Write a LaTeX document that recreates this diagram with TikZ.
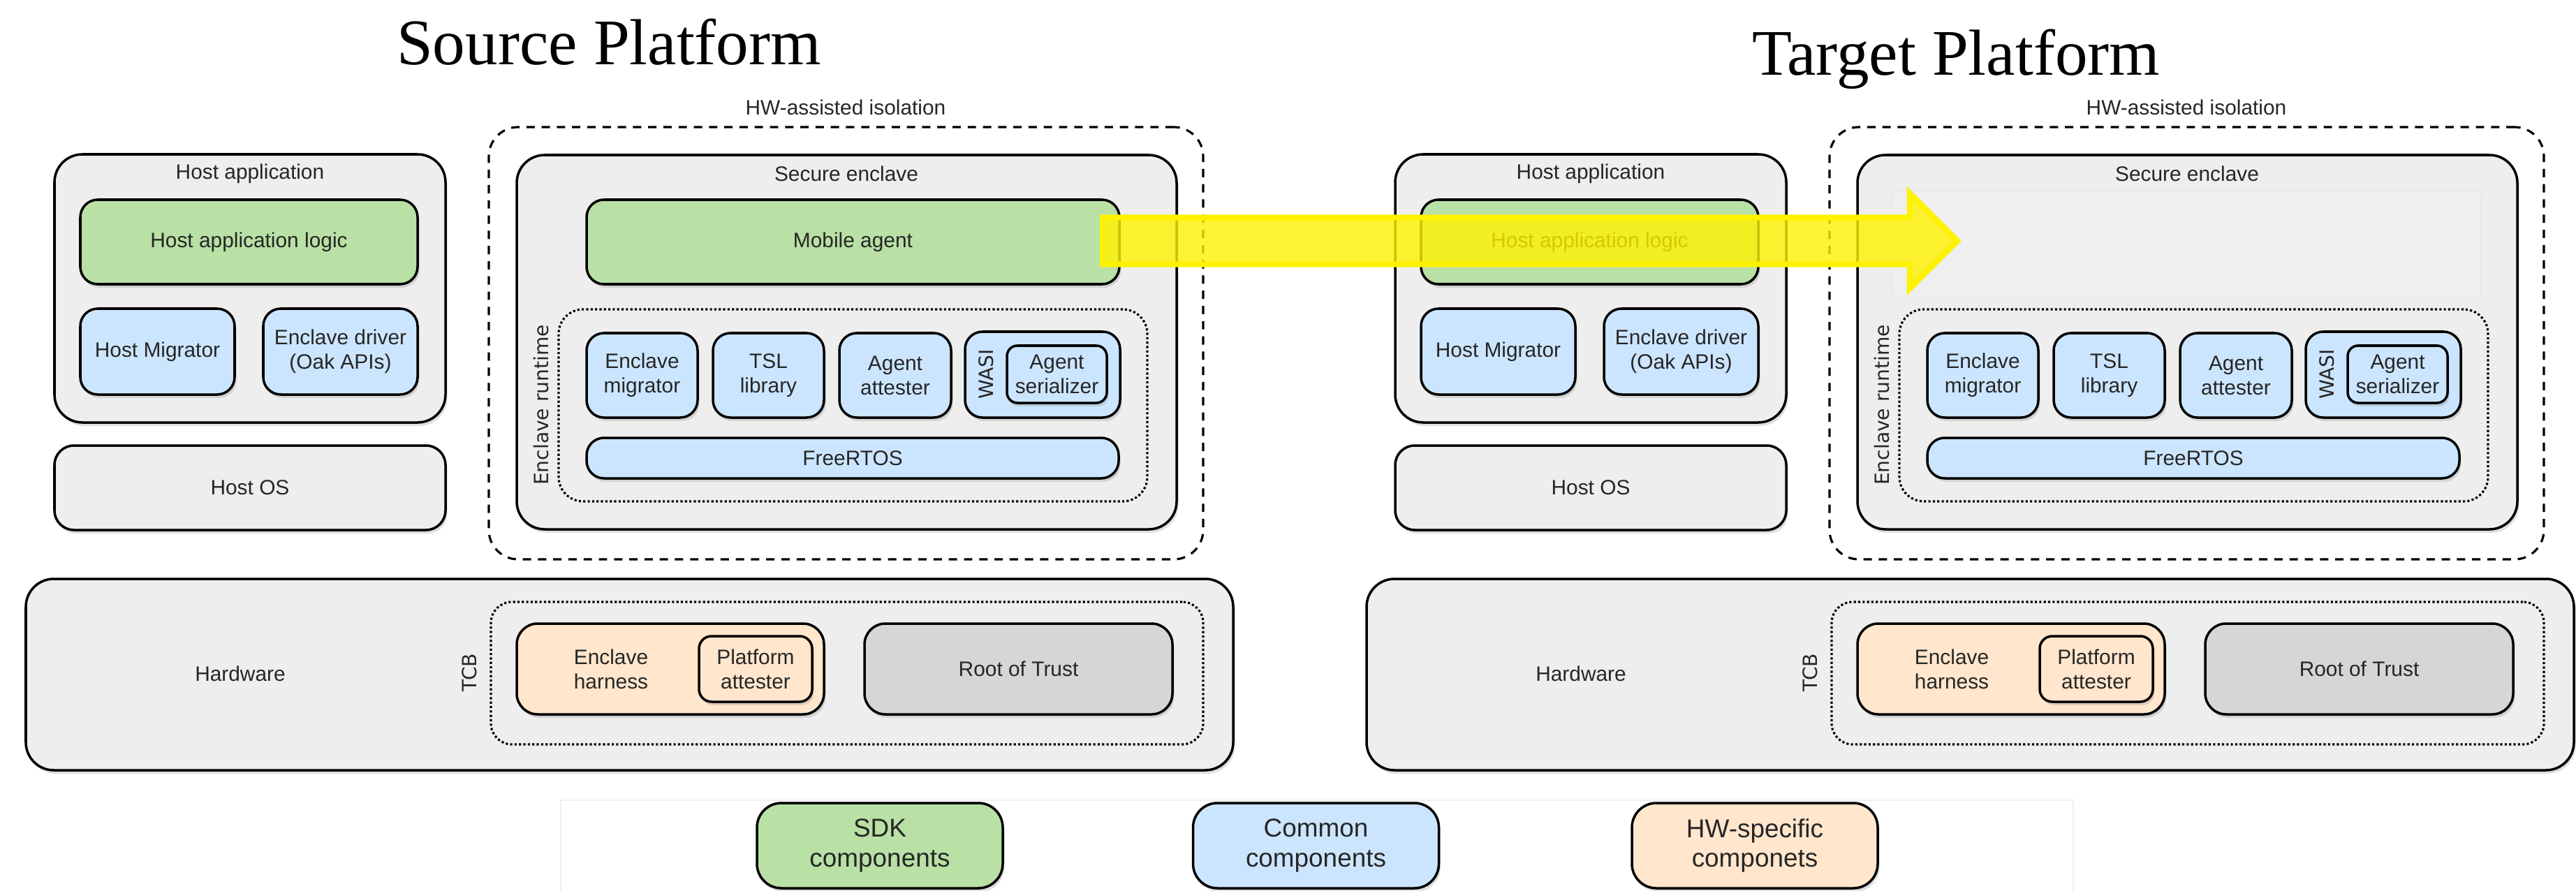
\documentclass[tikz,border=0pt]{standalone}
\usepackage{fontspec}
\setmainfont{Liberation Sans}
\newfontfamily\titlefont{Liberation Serif}
\newfontfamily\sidefont{DejaVu Sans}
\usepackage{tikz}
\usetikzlibrary{shapes.geometric, shapes.arrows, shadows, positioning}
\usepackage{xcolor}
\definecolor{sdkgreen}{HTML}{B9E0A5}
\definecolor{commonblue}{HTML}{CCE5FF}
\definecolor{hworange}{HTML}{FFE6CC}
\definecolor{boxgrey}{HTML}{EEEEEE}
\definecolor{rotgrey}{HTML}{D6D6D6}

\begin{document}
\begin{tikzpicture}[
    box/.style={draw, line width=1pt, rounded corners=0.25cm, align=center, inner sep=0pt, text=black!85,
        font=\fontsize{8.5}{10}\selectfont,
        drop shadow={shadow xshift=0.025cm, shadow yshift=-0.05cm, opacity=0.25}},
    sdk/.style={box, fill=sdkgreen},
    common/.style={box, fill=commonblue},
    hwspec/.style={box, fill=hworange},
    container/.style={box, fill=boxgrey, rounded corners=0.4cm},
    isolation/.style={draw, line width=0.9pt, dash pattern=on 3.4pt off 2.8pt, rounded corners=0.42cm},
    group/.style={draw, line width=0.9pt, dash pattern=on 0.9pt off 0.9pt, rounded corners=0.35cm},
    caption/.style={text=black!85, font=\fontsize{8.5}{10}\selectfont, align=center, inner sep=0pt},
    sidelabel/.style={rotate=90, text=black!85, font=\sidefont\fontsize{8}{9}\selectfont, inner sep=0pt},
    legendbox/.style={box, font=\fontsize{10.5}{12.2}\selectfont, rounded corners=0.35cm, minimum width=3.52cm, minimum height=1.22cm},
    platform/.style={font=\titlefont\fontsize{26.5}{30}\selectfont, anchor=base, inner sep=0pt}
]
    \useasboundingbox (0,0) rectangle (36.89,-12.76);
    \fill[white] (0,0) rectangle (36.89,-12.76);

    % Titles
    \node[platform] (srctitle) at (8.72,-0.92) {Source Platform};
    \node[platform] (tgttitle) at (28.01,-1.07) {Target Platform};

    % ---------------- Source platform ----------------
    % HW-assisted isolation
    \node[isolation, minimum width=10.23cm, minimum height=6.19cm] (iso-src) at (12.115,-4.915) {};
    \node[caption] (isolabel-src) at (12.11,-1.54) {HW-assisted isolation};

    % Host application
    \node[container, minimum width=5.6cm, minimum height=3.84cm] (hostapp-src) at (3.58,-4.13) {};
    \node[caption] (hostapplabel-src) at (3.58,-2.49) {Host application};
    \node[sdk, minimum width=4.83cm, minimum height=1.21cm] (hostlogic-src) at (3.565,-3.465) {Host application logic};
    \node[common, minimum width=2.21cm, minimum height=1.23cm] (hostmig-src) at (2.255,-5.035) {Host Migrator};
    \node[common, minimum width=2.21cm, minimum height=1.23cm] (driver-src) at (4.875,-5.035) {Enclave driver\\(Oak APIs)};

    % Host OS
    \node[container, rounded corners=0.28cm, minimum width=5.6cm, minimum height=1.21cm] (hostos-src) at (3.58,-6.985) {Host OS};

    % Secure enclave
    \node[container, minimum width=9.45cm, minimum height=5.36cm] (enclave-src) at (12.125,-4.9) {};
    \node[caption] (enclavelabel-src) at (12.12,-2.49) {Secure enclave};
    \node[sdk, minimum width=7.63cm, minimum height=1.21cm] (agent-src) at (12.215,-3.465) {Mobile agent};

    % Enclave runtime
    \node[group, minimum width=8.43cm, minimum height=2.75cm] (runtime-src) at (12.215,-5.805) {};
    \node[sidelabel] (runtimelabel-src) at (7.75,-5.8) {Enclave runtime};
    \node[common, minimum width=1.59cm, minimum height=1.21cm] (encmig-src) at (9.195,-5.375) {Enclave\\migrator};
    \node[common, minimum width=1.59cm, minimum height=1.21cm] (tsl-src) at (11.005,-5.375) {TSL\\library};
    \node[common, minimum width=1.6cm, minimum height=1.21cm] (attester-src) at (12.82,-5.375) {Agent\\attester};
    \node[common, minimum width=2.22cm, minimum height=1.23cm] (wasi-src) at (14.93,-5.365) {};
    \node[sidelabel] (wasilabel-src) at (14.12,-5.36) {WASI};
    \node[common, rounded corners=0.15cm, minimum width=1.43cm, minimum height=0.82cm] (serializer-src) at (15.135,-5.36) {Agent\\serializer};
    \node[common, minimum width=7.62cm, minimum height=0.58cm] (freertos-src) at (12.21,-6.56) {FreeRTOS};

    % Hardware
    \node[container, minimum width=17.29cm, minimum height=2.74cm] (hardware-src) at (9.015,-9.66) {};
    \node[caption] (hwlabel-src) at (3.44,-9.65) {Hardware};
    \node[group, rounded corners=0.3cm, minimum width=10.2cm, minimum height=2.04cm] (tcb-src) at (12.13,-9.64) {};
    \node[sidelabel] (tcblabel-src) at (6.72,-9.63) {TCB};
    \node[hwspec, rounded corners=0.3cm, minimum width=4.4cm, minimum height=1.3cm] (harness-src) at (9.6,-9.58) {};
    \node[caption] (harnesslabel-src) at (8.75,-9.58) {Enclave\\harness};
    \node[hwspec, rounded corners=0.18cm, minimum width=1.62cm, minimum height=0.94cm] (platatt-src) at (10.82,-9.58) {Platform\\attester};
    \node[box, fill=rotgrey, rounded corners=0.3cm, minimum width=4.41cm, minimum height=1.3cm] (rot-src) at (14.585,-9.58) {Root of Trust};

    % ---------------- Target platform ----------------
    % HW-assisted isolation
    \node[isolation, minimum width=10.23cm, minimum height=6.19cm] (iso-tgt) at (31.315,-4.915) {};
    \node[caption] (isolabel-tgt) at (31.31,-1.54) {HW-assisted isolation};

    % Host application
    \node[container, minimum width=5.6cm, minimum height=3.84cm] (hostapp-tgt) at (22.78,-4.13) {};
    \node[caption] (hostapplabel-tgt) at (22.78,-2.49) {Host application};
    \node[sdk, minimum width=4.83cm, minimum height=1.21cm] (hostlogic-tgt) at (22.765,-3.465) {Host application logic};
    \node[common, minimum width=2.21cm, minimum height=1.23cm] (hostmig-tgt) at (21.455,-5.035) {Host Migrator};
    \node[common, minimum width=2.21cm, minimum height=1.23cm] (driver-tgt) at (24.075,-5.035) {Enclave driver\\(Oak APIs)};

    % Host OS
    \node[container, rounded corners=0.28cm, minimum width=5.6cm, minimum height=1.21cm] (hostos-tgt) at (22.78,-6.985) {Host OS};

    % Secure enclave
    \node[container, minimum width=9.45cm, minimum height=5.36cm] (enclave-tgt) at (31.325,-4.9) {};
    \node[caption] (enclavelabel-tgt) at (31.32,-2.49) {Secure enclave};
    \node[fill=white, fill opacity=0.1, draw=black, draw opacity=0.03, rounded corners=0.1cm, minimum width=8.45cm, minimum height=1.54cm] (slot-tgt) at (31.305,-3.5) {};

    % Enclave runtime
    \node[group, minimum width=8.43cm, minimum height=2.75cm] (runtime-tgt) at (31.415,-5.805) {};
    \node[sidelabel] (runtimelabel-tgt) at (26.95,-5.8) {Enclave runtime};
    \node[common, minimum width=1.59cm, minimum height=1.21cm] (encmig-tgt) at (28.395,-5.375) {Enclave\\migrator};
    \node[common, minimum width=1.59cm, minimum height=1.21cm] (tsl-tgt) at (30.205,-5.375) {TSL\\library};
    \node[common, minimum width=1.6cm, minimum height=1.21cm] (attester-tgt) at (32.02,-5.375) {Agent\\attester};
    \node[common, minimum width=2.22cm, minimum height=1.23cm] (wasi-tgt) at (34.13,-5.365) {};
    \node[sidelabel] (wasilabel-tgt) at (33.32,-5.36) {WASI};
    \node[common, rounded corners=0.15cm, minimum width=1.43cm, minimum height=0.82cm] (serializer-tgt) at (34.335,-5.36) {Agent\\serializer};
    \node[common, minimum width=7.62cm, minimum height=0.58cm] (freertos-tgt) at (31.41,-6.56) {FreeRTOS};

    % Hardware
    \node[container, minimum width=17.29cm, minimum height=2.74cm] (hardware-tgt) at (28.215,-9.66) {};
    \node[caption] (hwlabel-tgt) at (22.64,-9.65) {Hardware};
    \node[group, rounded corners=0.3cm, minimum width=10.2cm, minimum height=2.04cm] (tcb-tgt) at (31.33,-9.64) {};
    \node[sidelabel] (tcblabel-tgt) at (25.92,-9.63) {TCB};
    \node[hwspec, rounded corners=0.3cm, minimum width=4.4cm, minimum height=1.3cm] (harness-tgt) at (28.8,-9.58) {};
    \node[caption] (harnesslabel-tgt) at (27.95,-9.58) {Enclave\\harness};
    \node[hwspec, rounded corners=0.18cm, minimum width=1.62cm, minimum height=0.94cm] (platatt-tgt) at (30.02,-9.58) {Platform\\attester};
    \node[box, fill=rotgrey, rounded corners=0.3cm, minimum width=4.41cm, minimum height=1.3cm] (rot-tgt) at (33.785,-9.58) {Root of Trust};

    % Migration of the mobile agent
    \node[single arrow, draw=yellow, line width=2.3pt, fill=yellow, fill opacity=0.8,
          inner xsep=0pt, inner ysep=0.295cm, single arrow head extend=0.345cm,
          minimum height=12.24cm, anchor=tail] (migration) at (15.75,-3.45) {};

    % Legend
    \node[draw=black!6, fill=white, line width=0.6pt, minimum width=21.66cm, minimum height=1.44cm] (legend) at (18.86,-12.18) {};
    \node[legendbox, fill=sdkgreen] (sdkkey) at (12.6,-12.11) {SDK\\components};
    \node[legendbox, fill=commonblue] (commonkey) at (18.845,-12.11) {Common\\components};
    \node[legendbox, fill=hworange] (hwkey) at (25.13,-12.11) {HW-specific\\componets};

\end{tikzpicture}
\end{document}
